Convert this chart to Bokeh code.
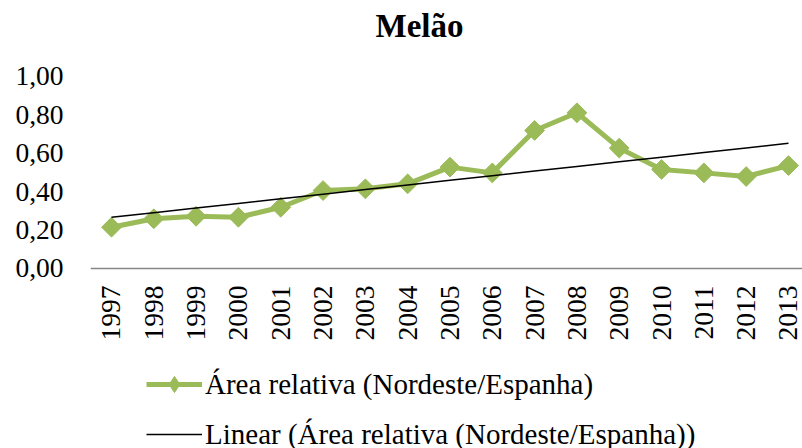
import math
import numpy as np
from bokeh.plotting import figure
from bokeh.models import Range1d, FixedTicker, Legend, LegendItem, Label, Span, ColumnDataSource
from bokeh.core.properties import value
from bokeh.embed import file_html
from bokeh.resources import INLINE

# ---- data ----
years = list(range(1997, 2014))
year_labels = [str(y) for y in years]
area_relativa = [0.215, 0.259, 0.272, 0.267, 0.319, 0.406, 0.415, 0.441, 0.528,
                 0.498, 0.719, 0.811, 0.627, 0.516, 0.498, 0.479, 0.536]
y_ticks = [0.0, 0.2, 0.4, 0.6, 0.8, 1.0]
y_tick_labels = ["0,00", "0,20", "0,40", "0,60", "0,80", "1,00"]
title_text = "Melão"
series_name = "Área relativa (Nordeste/Espanha)"
trend_name = "Linear (Área relativa (Nordeste/Espanha))"

# linear trend (least squares) of the series
idx = np.arange(len(years))
slope, intercept = np.polyfit(idx, area_relativa, 1)
trend = list(intercept + slope * idx)

FONT = "Liberation Serif"
GREEN = "#9BBB59"

# frame spans the whole canvas right of the value labels; y=0 sits 268px down,
# y=1 sits 76px down (192 px per unit)
p = figure(width=802, height=448, output_backend="svg", toolbar_location=None,
           title=None,
           x_range=Range1d(1996.504, 2013.331), y_range=Range1d(-0.9375, 1.3958),
           min_border_left=90, min_border_right=0, min_border_top=0,
           min_border_bottom=0)
p.outline_line_color = None
p.xgrid.visible = False
p.ygrid.visible = False
p.xaxis.visible = False

# title
p.add_layout(Label(x=285, y=423, x_units="screen", y_units="screen",
                   text=title_text, text_font=FONT, text_font_size="33px",
                   text_font_style="bold", text_color="black",
                   text_align="left", text_baseline="alphabetic"))

# y axis
p.yaxis.ticker = FixedTicker(ticks=y_ticks)
p.yaxis.major_label_overrides = {t: l for t, l in zip(y_ticks, y_tick_labels)}
p.yaxis.axis_line_color = None
p.yaxis.major_tick_line_color = None
p.yaxis.minor_tick_line_color = None
p.yaxis.major_tick_out = 0
p.yaxis.major_tick_in = 0
p.yaxis.major_label_standoff = 27
p.yaxis.major_label_text_font = FONT
p.yaxis.major_label_text_font_size = "27.5px"
p.yaxis.major_label_text_color = "black"

# category axis line and year labels
p.add_layout(Span(location=0, dimension="width", line_color="#868686", line_width=1.5))
lab_src = ColumnDataSource(dict(x=years, y=[0] * len(years), t=year_labels))
p.text(x="x", y="y", text="t", source=lab_src, angle=math.pi / 2, y_offset=17,
       text_align="right", text_baseline="middle", text_font=value(FONT),
       text_font_size="27.5px", text_color="black")

# series
ln = p.line(years, area_relativa, line_color=GREEN, line_width=5)
mk = p.scatter(years, area_relativa, marker="square", angle=math.pi / 4, size=14,
               fill_color=GREEN, line_color=GREEN)
tr = p.line(years, trend, line_color="black", line_width=1.5)
# diamond used only for the legend swatch (legend swatches are drawn unrotated)
mk_leg = p.scatter(years, area_relativa, marker="diamond", size=14,
                   fill_color=GREEN, line_color=GREEN, visible=False)

legend = Legend(items=[LegendItem(label=series_name, renderers=[ln, mk_leg]),
                       LegendItem(label=trend_name, renderers=[tr])],
                location=(56, -6), orientation="vertical")
legend.padding = 0
legend.margin = 0
legend.spacing = 10
legend.glyph_width = 56
legend.glyph_height = 40
legend.label_height = 40
legend.label_standoff = 3
legend.label_text_font = FONT
legend.label_text_font_size = "29px"
legend.label_text_color = "black"
legend.border_line_color = None
legend.background_fill_alpha = 0
p.add_layout(legend)

open("out.html", "w").write(file_html(p, INLINE))
